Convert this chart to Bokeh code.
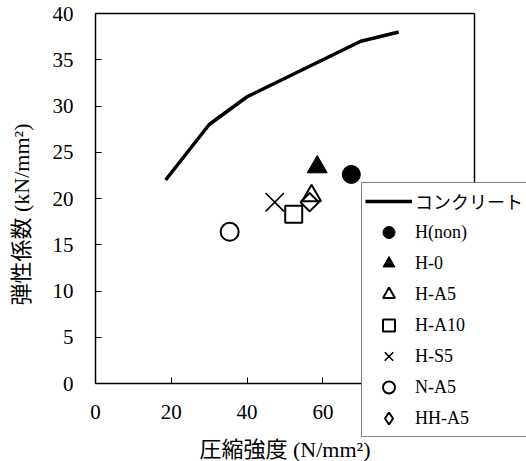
import math
from bokeh.plotting import figure
from bokeh.models import Legend, LegendItem, Range1d, LinearAxis, FixedTicker
from bokeh.embed import file_html
from bokeh.resources import INLINE

# ---- data ----
concrete_x = [18.5, 30, 40, 50, 60, 70, 80]
concrete_y = [22, 28, 31, 33, 35, 37, 38]

series_names = ["H(non)", "H-0", "H-A5", "H-A10", "H-S5", "N-A5", "HH-A5"]
series_x = [67.5, 58.5, 57.0, 52.3, 47.3, 35.4, 56.5]
series_y = [22.6, 23.4, 20.3, 18.3, 19.6, 16.4, 19.6]

x_ticks = [0, 20, 40, 60, 80, 100]
y_ticks = [0, 5, 10, 15, 20, 25, 30, 35, 40]
X_MIN, X_MAX = 0, 100
Y_MIN, Y_MAX = 0, 40

FONT = "Liberation Serif, Noto Sans CJK JP"

W, H = 526, 461
BOX_LEFT, BOX_TOP = 95, 13         # pixel position of the axes box
PLOT_W, PLOT_H = 379, 370          # size of the axes box in pixels
ux = (X_MAX - X_MIN) / PLOT_W
uy = (Y_MAX - Y_MIN) / PLOT_H
x_range = Range1d(X_MIN - BOX_LEFT * ux, X_MIN + (W - BOX_LEFT) * ux)
y_range = Range1d(Y_MAX - (H - BOX_TOP) * uy, Y_MAX + BOX_TOP * uy)

p = figure(width=W, height=H, output_backend="svg", toolbar_location=None,
           x_range=x_range, y_range=y_range,
           min_border_left=0, min_border_right=0, min_border_top=0, min_border_bottom=0)
p.background_fill_color = "white"
p.border_fill_color = "white"
p.outline_line_color = None
p.xgrid.visible = False
p.ygrid.visible = False

line_r = p.line(concrete_x, concrete_y, line_color="black", line_width=3.5)

styles = [
    dict(marker="circle", size=18, fill_color="black", line_color="black"),
    dict(marker="triangle", size=20, fill_color="black", line_color="black"),
    dict(marker="triangle", size=19, fill_color=None, line_color="black", line_width=2),
    dict(marker="square", size=17, fill_color=None, line_color="black", line_width=2),
    dict(marker="x", size=26, line_color="black", line_width=1.6),
    dict(marker="circle", size=18, fill_color=None, line_color="black", line_width=2),
    dict(marker="square", size=13, angle=math.pi / 4, fill_color=None, line_color="black", line_width=2),
]
rends = []
for i, st in enumerate(styles):
    r = p.scatter([series_x[i]], [series_y[i]], **st)
    rends.append(r)
# hidden diamond renderer used only as the legend swatch (swatches ignore rotation)
diamond_swatch = p.scatter([series_x[-1]], [series_y[-1]], marker="diamond", size=14,
                           fill_color=None, line_color="black", line_width=2, visible=False)
legend_rends = rends[:-1] + [diamond_swatch]

xa = p.xaxis[0]
ya = p.yaxis[0]
xa.fixed_location = Y_MIN
ya.fixed_location = X_MIN
xa.bounds = (X_MIN, X_MAX)
ya.bounds = (Y_MIN, Y_MAX)
for ax in (xa, ya):
    ax.axis_line_color = "black"
    ax.axis_line_width = 1.5
    ax.major_tick_in = 6
    ax.major_tick_out = 0
    ax.minor_tick_in = 0
    ax.minor_tick_out = 0
    ax.major_tick_line_width = 1
    ax.major_label_text_font = FONT
    ax.major_label_text_font_size = "21px"
    ax.major_label_text_color = "black"
    ax.axis_label_text_font = FONT
    ax.axis_label_text_font_size = "22px"
    ax.axis_label_text_font_style = "normal"
    ax.axis_label_text_color = "black"

xa.ticker = FixedTicker(ticks=x_ticks)
ya.ticker = FixedTicker(ticks=y_ticks)
xa.axis_label = "圧縮強度 (N/mm²)"
xa.major_label_standoff = 21
ya.major_label_standoff = 22
xa.axis_label_standoff = 15

# y-axis title carried by a bare axis so that it can sit a little lower
ylab_ax = LinearAxis(fixed_location=X_MIN, bounds=(Y_MIN - 1.7, Y_MAX - 1.7),
                     ticker=FixedTicker(ticks=[]), axis_line_color=None,
                     major_tick_in=0, major_tick_out=0, minor_tick_in=0, minor_tick_out=0,
                     axis_label="弾性係数 (kN/mm²)", axis_label_standoff=62,
                     axis_label_text_font=FONT, axis_label_text_font_size="22px",
                     axis_label_text_font_style="normal", axis_label_text_color="black")
p.add_layout(ylab_ax, "left")

# top and right edges of the axes box
top_ax = LinearAxis(fixed_location=Y_MAX, bounds=(X_MIN, X_MAX), ticker=FixedTicker(ticks=[]),
                    axis_line_color="black", axis_line_width=1.5,
                    major_tick_in=0, major_tick_out=0, minor_tick_in=0, minor_tick_out=0)
right_ax = LinearAxis(fixed_location=X_MAX, bounds=(Y_MIN, Y_MAX), ticker=FixedTicker(ticks=[]),
                      axis_line_color="black", axis_line_width=1.5,
                      major_tick_in=0, major_tick_out=0, minor_tick_in=0, minor_tick_out=0)
p.add_layout(top_ax, "above")
p.add_layout(right_ax, "right")

items = [LegendItem(label="コンクリート", renderers=[line_r])]
for name, r in zip(series_names, legend_rends):
    items.append(LegendItem(label=name, renderers=[r]))

legend = Legend(items=items, location=(361, 24), orientation="vertical",
                glyph_width=47, glyph_height=30, label_height=20, spacing=1,
                padding=3, margin=0, label_standoff=3,
                label_text_font=FONT, label_text_font_size="18px", label_text_color="black",
                border_line_color="black", border_line_width=1,
                background_fill_color="white", background_fill_alpha=1.0,
                inactive_fill_alpha=0.0)
p.add_layout(legend, "center")

open("out.html", "w").write(file_html(p, INLINE))
